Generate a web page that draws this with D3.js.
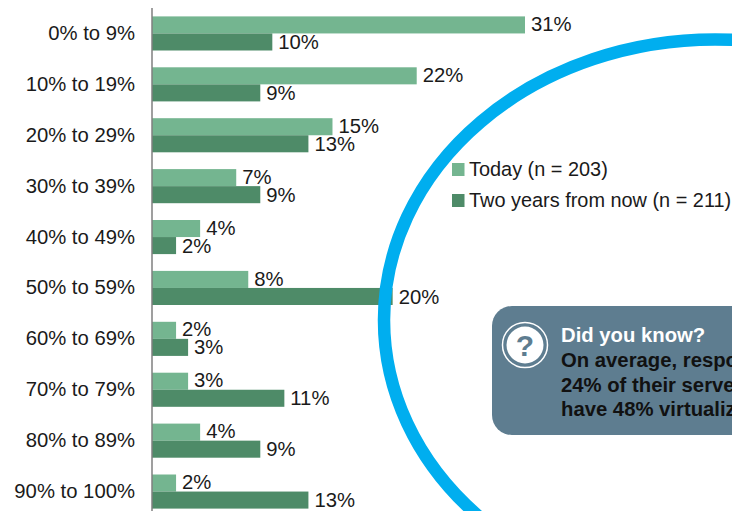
<!DOCTYPE html>
<html>
  <head>
    <meta charset="utf-8">
    <title>Server virtualization</title>
    <script src="https://d3js.org/d3.v7.min.js"></script>
    <style>
      html, body { margin: 0; padding: 0; background: #fff; overflow: hidden; }
      svg { display: block; }
      text { font-family: "Liberation Sans", Arial, sans-serif; fill: #1a1a1a; }
    </style>
  </head>
  <body>
    <svg id="chart" width="732" height="511"></svg>

    <script>
      // data
      categories = ["0% to 9%", "10% to 19%", "20% to 29%", "30% to 39%", "40% to 49%",
        "50% to 59%", "60% to 69%", "70% to 79%", "80% to 89%", "90% to 100%"];
      today = [31, 22, 15, 7, 4, 8, 2, 3, 4, 2];
      twoYears = [10, 9, 13, 9, 2, 20, 3, 11, 9, 13];
      seriesNames = ["Today (n = 203)", "Two years from now (n = 211)"];
      seriesColors = ["#74b590", "#4e8b68"];
      // the reference crops these lines at its right edge
      calloutTitle = "Did you know?";
      calloutLines = ["On average, respo", "24% of their serve", "have 48% virtualiz"];

      svg = d3.select("#chart");

      // scales
      x = d3.scaleLinear().domain([0, 31]).range([152, 525]);
      y = d3.scaleBand().domain(categories).range([8, 517]).paddingInner(0.33).paddingOuter(0.165);
      sub = d3.scaleBand().domain([0, 1]).range([0, y.bandwidth()]);

      // bars
      rows = svg.selectAll(".row")
          .data(categories)
        .enter().append("g")
          .attr("class", "row")
          .attr("transform", function(d) { return "translate(0," + y(d) + ")"; });

      [today, twoYears].forEach(function(values, s) {
        rows.append("rect")
          .attr("x", x(0))
          .attr("y", sub(s))
          .attr("width", function(d, i) { return x(values[i]) - x(0); })
          .attr("height", sub.bandwidth())
          .attr("fill", seriesColors[s]);
        rows.append("text")
          .attr("x", function(d, i) { return x(values[i]) + 6; })
          .attr("y", sub(s) + sub.bandwidth() / 2 - (s == 0 ? 1 : 0))
          .attr("dy", "0.35em")
          .attr("font-size", 20.3)
          .text(function(d, i) { return values[i] + "%"; });
      });

      // category axis
      axis = svg.append("g")
        .attr("transform", "translate(152,0)")
        .call(d3.axisLeft(y).tickSize(0).tickPadding(17));
      axis.select(".domain").attr("d", "M0,8V511").attr("stroke", "#7f7f7f").attr("stroke-width", 1.5);
      axis.selectAll("text")
        .attr("font-family", '"Liberation Sans", Arial, sans-serif')
        .attr("font-size", 20.3);

      // ring
      svg.append("ellipse")
        .attr("cx", 715)
        .attr("cy", 320)
        .attr("rx", 331)
        .attr("ry", 280.5)
        .attr("fill", "none")
        .attr("stroke", "#00aeef")
        .attr("stroke-width", 12.5);

      // legend
      legend = svg.selectAll(".legend")
          .data(seriesNames)
        .enter().append("g")
          .attr("class", "legend")
          .attr("transform", function(d, i) { return "translate(452," + (163 + i * 31) + ")"; });
      legend.append("rect")
        .attr("width", 12.5)
        .attr("height", 13)
        .attr("fill", function(d, i) { return seriesColors[i]; });
      legend.append("text")
        .attr("x", 17)
        .attr("y", 6)
        .attr("dy", "0.35em")
        .attr("font-size", 19.9)
        .text(function(d) { return d; });

      // callout
      svg.append("rect")
        .attr("x", 492)
        .attr("y", 306)
        .attr("width", 300)
        .attr("height", 129)
        .attr("rx", 20)
        .attr("fill", "#5e7d90");
      svg.append("circle")
        .attr("cx", 525)
        .attr("cy", 345)
        .attr("r", 22.5)
        .attr("fill", "none")
        .attr("stroke", "#fff")
        .attr("stroke-width", 1.5);
      svg.append("circle")
        .attr("cx", 525)
        .attr("cy", 345)
        .attr("r", 18.5)
        .attr("fill", "#fff");
      svg.append("text")
        .attr("x", 525)
        .attr("y", 356)
        .attr("text-anchor", "middle")
        .attr("font-size", 30)
        .attr("font-weight", "bold")
        .style("fill", "#5e7d90")
        .text("?");
      svg.append("text")
        .attr("x", 561)
        .attr("y", 342)
        .attr("font-size", 20.3)
        .attr("font-weight", "bold")
        .style("fill", "#fff")
        .text(calloutTitle);
      svg.selectAll(".calloutLine")
          .data(calloutLines)
        .enter().append("text")
          .attr("class", "calloutLine")
          .attr("x", 561)
          .attr("y", function(d, i) { return 367 + i * 24.5; })
          .attr("font-size", 20.3)
          .attr("font-weight", "bold")
          .style("fill", "#111")
          .text(function(d) { return d; });
    </script>
  </body>
</html>
